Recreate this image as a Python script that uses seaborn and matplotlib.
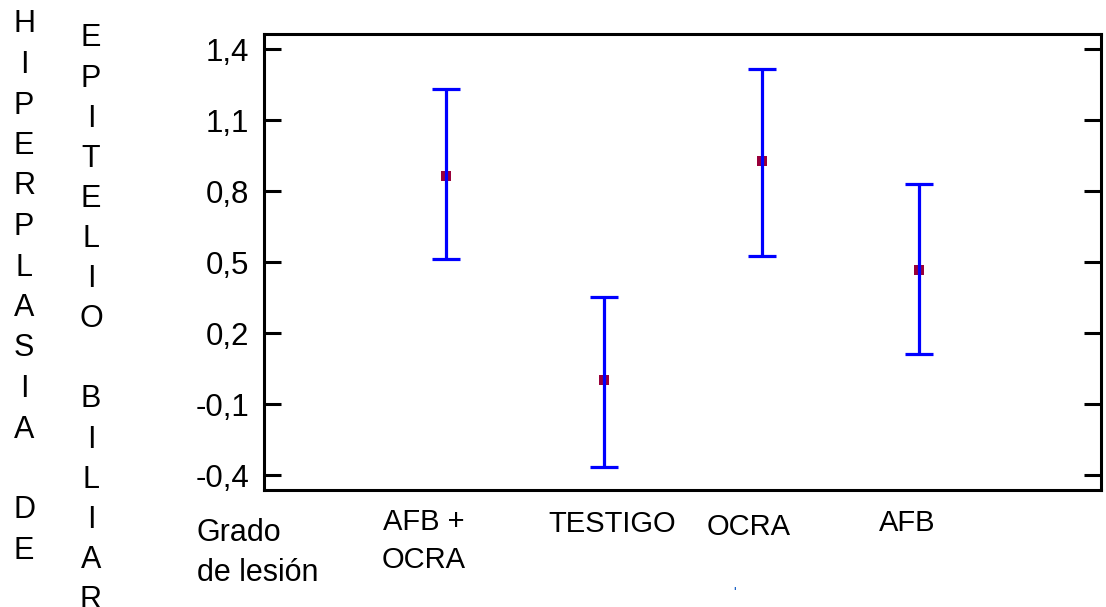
import numpy as np
import matplotlib
matplotlib.use("Agg")
import matplotlib.pyplot as plt
import matplotlib.transforms as mtransforms
import seaborn as sns

# ---- data ----
categories = ["AFB +\nOCRA", "TESTIGO", "OCRA", "AFB"]
means = [0.866, 0.003, 0.927, 0.468]
lower = [0.513, -0.366, 0.526, 0.113]
upper = [1.231, 0.352, 1.315, 0.830]
yticks = [1.4, 1.1, 0.8, 0.5, 0.2, -0.1, -0.4]
ytick_labels = ["1,4", "1,1", "0,8", "0,5", "0,2", "-0,1", "-0,4"]
ylabel_left = "HIPERPLASIA\nDE"
ylabel_right = "EPITELIO\nBILIAR"
xlabel_text = ["Grado", "de lesión"]

sns.set_style("white")
plt.rcParams["font.family"] = ["Liberation Sans", "DejaVu Sans"]

W, H = 1106, 607
fig = plt.figure(figsize=(W / 100, H / 100), dpi=100)
ax = fig.add_axes([264 / W, 1 - 490 / H, (1101 - 264) / W, (490 - 34) / H])

x = np.arange(len(categories))
means_a = np.array(means)
yerr = np.vstack([means_a - np.array(lower), np.array(upper) - means_a])

# means (under the error lines)
sns.scatterplot(x=x, y=means, marker="s", s=50, color="#99003a",
                linewidth=0, ax=ax, zorder=2, legend=False)
ax.errorbar(x, means, yerr=yerr, fmt="none", ecolor="#0000ff",
            elinewidth=2.3, capsize=10.4, capthick=2.3, zorder=3)

ax.set_xlim(-1.156, 4.152)
ax.set_ylim(-0.462, 1.465)
ax.set_yticks(yticks)
ax.set_yticklabels(ytick_labels)
ax.set_xticks([])
ax.tick_params(axis="y", direction="in", left=True, right=True,
               length=12, width=2.2, pad=10.5, labelsize=22.5,
               colors="black")
for sp in ax.spines.values():
    sp.set_visible(True)
    sp.set_color("black")
    sp.set_linewidth(2.2)
ax.set_xlabel("")
ax.set_ylabel("")

# category labels below the axis
trans = mtransforms.blended_transform_factory(ax.transData, fig.transFigure)
label_dx = [-0.141, 0.051, -0.084, -0.079]
label_base = [530, 532, 535, 531]
line_step = 38
for i, lab in enumerate(categories):
    for j, line in enumerate(lab.split("\n")):
        fig.text(i + label_dx[i], 1 - (label_base[i] + j * line_step) / H,
                 line, transform=trans, ha="center", va="baseline",
                 fontsize=21, color="black")

# "Grado de lesión"
for j, line in enumerate(xlabel_text):
    fig.text(197 / W, 1 - (541 + j * 40) / H, line, ha="left",
             va="baseline", fontsize=22, color="black")

# small stray mark seen below the plot
fig.text(735 / W, 1 - 597 / H, "'", ha="center", va="baseline",
         fontsize=10, color="#0050c0")

# vertical stacked-letter axis titles
def stacked(text, xc, y0, step):
    k = 0
    for line_i, word in enumerate(text.split("\n")):
        if line_i > 0:
            k += 1  # blank line between words
        for ch in word:
            fig.text(xc / W, 1 - (y0 + k * step + 11.5) / H, ch,
                     ha="center", va="baseline", fontsize=22, color="black")
            k += 1

stacked(ylabel_left, 24, 21, 40.5)
stacked(ylabel_right, 91, 35, 40.1)

fig.savefig("out.png", dpi=100, facecolor="white")
